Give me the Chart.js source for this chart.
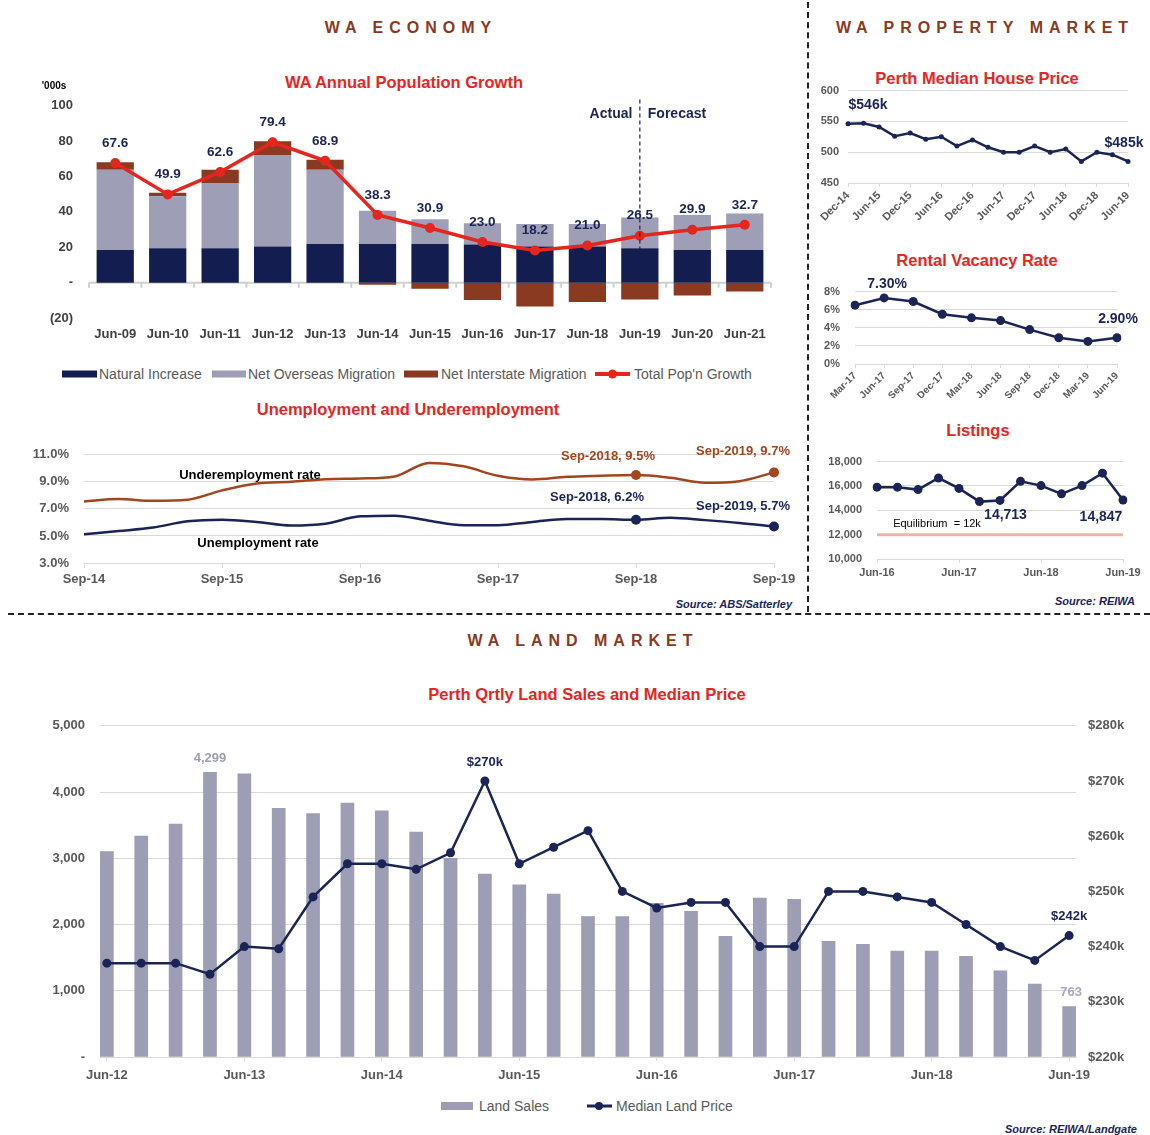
<!DOCTYPE html>
<html><head><meta charset="utf-8">
<script src="https://cdn.jsdelivr.net/npm/chart.js@4.4.1/dist/chart.umd.min.js"></script>
<style>
body{margin:0;background:#fff;font-family:"Liberation Sans",Arial,sans-serif;}
#page{position:relative;width:1150px;height:1135px;overflow:hidden;background:#fff;}
canvas{position:absolute;}
.t{position:absolute;white-space:nowrap;transform:translate(-50%,-50%);}
.head{font-weight:bold;font-size:16px;letter-spacing:6px;color:#8B3A1E;}
.title{font-weight:bold;font-size:16.5px;color:#E5261F;}
.src{position:absolute;white-space:nowrap;font-style:italic;font-weight:bold;font-size:11px;color:#1B2456;transform:translate(-100%,-50%);}
.lg{position:absolute;white-space:nowrap;font-size:14px;color:#595959;transform:translateY(-50%);}
.sw{position:absolute;height:7px;transform:translateY(-50%);}
.ann{font-weight:bold;font-size:13px;color:#000;}
</style>
</head>
<body>
<div id="page">
  <!-- separators -->
  <div style="position:absolute;left:807px;top:2px;height:610px;border-left:2px dashed #222;"></div>
  <div style="position:absolute;left:8px;top:613px;width:1142px;border-top:2px dashed #222;"></div>

  <!-- headings -->
  <div class="t head" style="left:411px;top:28px;">WA ECONOMY</div>
  <div class="t head" style="left:985px;top:28px;">WA PROPERTY MARKET</div>
  <div class="t head" style="left:583px;top:641px;">WA LAND MARKET</div>

  <!-- titles -->
  <div class="t title" style="left:404px;top:82px;">WA Annual Population Growth</div>
  <div class="t title" style="left:408px;top:409px;">Unemployment and Underemployment</div>
  <div class="t title" style="left:977px;top:78px;">Perth Median House Price</div>
  <div class="t title" style="left:977px;top:260px;">Rental Vacancy Rate</div>
  <div class="t title" style="left:978px;top:430px;">Listings</div>
  <div class="t title" style="left:587px;top:694px;">Perth Qrtly Land Sales and Median Price</div>

  <canvas id="pop" width="800" height="268" style="left:0;top:82px;"></canvas>
  <canvas id="lab" width="800" height="159" style="left:0;top:432px;"></canvas>
  <canvas id="house" width="340" height="155" style="left:810px;top:75px;"></canvas>
  <canvas id="vac" width="340" height="128" style="left:810px;top:270px;"></canvas>
  <canvas id="list" width="340" height="143" style="left:810px;top:440px;"></canvas>
  <canvas id="land" width="1150" height="387" style="left:0;top:703px;"></canvas>

  <!-- population extras -->
  <div class="t" style="left:54px;top:85px;font-weight:bold;font-size:10px;color:#000;">'000s</div>
  <div class="t" style="left:611px;top:113px;font-weight:bold;font-size:14px;color:#1B2456;">Actual</div>
  <div class="t" style="left:677px;top:113px;font-weight:bold;font-size:14px;color:#1B2456;">Forecast</div>
  <div class="sw" style="left:62px;top:374px;width:35px;background:#141D4F;"></div>
  <div class="lg" style="left:99px;top:374px;">Natural Increase</div>
  <div class="sw" style="left:212px;top:374px;width:34px;background:#9E9EB6;"></div>
  <div class="lg" style="left:248px;top:374px;">Net Overseas Migration</div>
  <div class="sw" style="left:404px;top:374px;width:34px;background:#8A3A20;"></div>
  <div class="lg" style="left:441px;top:374px;">Net Interstate Migration</div>
  <div class="sw" style="left:595px;top:374px;width:35px;height:4px;background:#E4261F;"></div>
  <div class="sw" style="left:608px;top:374px;width:9px;height:9px;border-radius:50%;background:#E4261F;"></div>
  <div class="lg" style="left:634px;top:374px;">Total Pop'n Growth</div>

  <!-- labour extras -->
  <div class="t ann" style="left:250px;top:474px;">Underemployment rate</div>
  <div class="t ann" style="left:258px;top:542px;">Unemployment rate</div>
  <div class="src" style="left:792px;top:604px;">Source: ABS/Satterley</div>

  <!-- listings extras -->
  <div class="t" style="left:937px;top:523px;font-size:11px;color:#000;">Equilibrium &nbsp;= 12k</div>
  <div class="src" style="left:1135px;top:601px;">Source: REIWA</div>

  <!-- land extras -->
  <div class="sw" style="left:441px;top:1106px;width:32px;height:8px;background:#9D9DB5;"></div>
  <div class="lg" style="left:479px;top:1106px;">Land Sales</div>
  <div class="sw" style="left:587px;top:1106px;width:25px;height:3px;background:#1B2456;"></div>
  <div class="sw" style="left:595px;top:1106px;width:8px;height:8px;border-radius:50%;background:#1B2456;"></div>
  <div class="lg" style="left:616px;top:1106px;">Median Land Price</div>
  <div class="src" style="left:1137px;top:1129px;">Source: REIWA/Landgate</div>
</div>

<script>
// ---------------- DATA ----------------
const popCategories = ['Jun-09','Jun-10','Jun-11','Jun-12','Jun-13','Jun-14','Jun-15','Jun-16','Jun-17','Jun-18','Jun-19','Jun-20','Jun-21'];
const naturalIncrease = [18.5,19.4,19.4,20.4,21.8,21.8,21.8,21.5,20.4,20.4,19.4,18.5,18.5];
const netOverseasMigration = [45.4,29.5,36.9,51.5,42.1,18.8,14.0,12.1,12.7,12.7,17.5,19.7,20.6];
const netInterstateMigration = [4.2,2.0,7.5,8.0,5.6,-1.2,-3.5,-9.8,-13.5,-11.0,-9.6,-7.3,-5.0];
const totalPopGrowth = [67.6,49.9,62.6,79.4,68.9,38.3,30.9,23.0,18.2,21.0,26.5,29.9,32.7];
const popYTicks = [-20,0,20,40,60,80,100];

const labourLabels = ['Sep-14','Dec-14','Mar-15','Jun-15','Sep-15','Dec-15','Mar-16','Jun-16','Sep-16','Dec-16','Mar-17','Jun-17','Sep-17','Dec-17','Mar-18','Jun-18','Sep-18','Dec-18','Mar-19','Jun-19','Sep-19'];
const underemploymentRate = [7.55,7.73,7.6,7.68,8.37,8.88,9.0,9.2,9.25,9.4,10.4,10.15,9.45,9.17,9.37,9.45,9.5,9.3,8.93,9.05,9.7];
const unemploymentRate = [5.12,5.36,5.62,6.08,6.2,6.04,5.77,5.9,6.45,6.5,6.13,5.8,5.8,6.04,6.25,6.25,6.2,6.35,6.17,5.96,5.7];
const labourHighlights = [16, 20];
const labourHighlightNames = ['Sep-2018','Sep-2019'];

const houseLabels = ['Dec-14','Mar-15','Jun-15','Sep-15','Dec-15','Mar-16','Jun-16','Sep-16','Dec-16','Mar-17','Jun-17','Sep-17','Dec-17','Mar-18','Jun-18','Sep-18','Dec-18','Mar-19','Jun-19'];
const houseMedian = [546,547,541,526,531,521,525,510,520,508,500,500,510,500,505,485,500,496,485];

const vacancyLabels = ['Mar-17','Jun-17','Sep-17','Dec-17','Mar-18','Jun-18','Sep-18','Dec-18','Mar-19','Jun-19'];
const vacancyRate = [6.5,7.3,6.9,5.5,5.1,4.8,3.8,2.9,2.5,2.9];

const listingLabels = ['Jun-16','Sep-16','Dec-16','Mar-17','Jun-17','Sep-17','Dec-17','Mar-18','Jun-18','Sep-18','Dec-18','Mar-19','Jun-19'];
const listings = [15900,15900,15700,16650,15800,14713,14810,16380,16030,15350,16030,17050,14847];
const listingsEquilibrium = 12000;

const landLabels = ['Jun-12','Sep-12','Dec-12','Mar-13','Jun-13','Sep-13','Dec-13','Mar-14','Jun-14','Sep-14','Dec-14','Mar-15','Jun-15','Sep-15','Dec-15','Mar-16','Jun-16','Sep-16','Dec-16','Mar-17','Jun-17','Sep-17','Dec-17','Mar-18','Jun-18','Sep-18','Dec-18','Mar-19','Jun-19'];
const landSales = [3100,3335,3515,4299,4275,3755,3675,3835,3715,3395,3000,2760,2600,2460,2120,2120,2320,2200,1820,2400,2380,1745,1700,1600,1600,1520,1300,1100,763];
const landMedianPrice = [237,237,237,235,240,239.6,249,255,255,254,257,270,255,258,261,250,247,248,248,240,240,250,250,249,248,244,240,237.5,242];

// ---------------- STYLE ----------------
const NAVY = '#1B2456', RED = '#E4261F', BROWN = '#8A3A20', LAV = '#9E9EB6', DARK = '#141D4F', UBROWN = '#A2461F';
const GRID = '#D9D9D9';
Chart.defaults.font.family = "'Liberation Sans', Arial, sans-serif";
Chart.defaults.font.weight = 'bold';
Chart.defaults.color = '#595959';
Chart.defaults.animation = false;
Chart.defaults.responsive = false;
Chart.defaults.plugins.legend.display = false;
Chart.defaults.plugins.tooltip.enabled = false;

function drawText(ctx, text, x, y, font, color, align) {
  ctx.save();
  ctx.font = font; ctx.fillStyle = color;
  ctx.textAlign = align || 'center'; ctx.textBaseline = 'middle';
  ctx.fillText(text, x, y);
  ctx.restore();
}
const F = "'Liberation Sans', Arial, sans-serif";

// ---------------- POPULATION ----------------
new Chart(document.getElementById('pop'), {
  type: 'bar',
  data: {
    labels: popCategories,
    datasets: [
      {type:'line', label:"Total Pop'n Growth", data: totalPopGrowth, borderColor: RED, backgroundColor: RED, borderWidth: 3.5, pointRadius: 5, pointBorderWidth: 0, stack:'line', order: 0},
      {label:'Natural Increase', data: naturalIncrease, backgroundColor: DARK, stack:'s', order: 1, barPercentage: 0.71, categoryPercentage: 1},
      {label:'Net Overseas Migration', data: netOverseasMigration, backgroundColor: LAV, stack:'s', order: 1, barPercentage: 0.71, categoryPercentage: 1},
      {label:'Net Interstate Migration', data: netInterstateMigration, backgroundColor: BROWN, stack:'s', order: 1, barPercentage: 0.71, categoryPercentage: 1}
    ]
  },
  options: {
    layout: {padding: {top: 6, right: 29, left: 0, bottom: 0}},
    scales: {
      x: {stacked: true, grid: {display: false, drawTicks: false}, border: {display: false},
          ticks: {padding: 9, color: '#404040', font: {size: 13, weight: 'bold'}},
          afterFit: s => { s.height = 32; }},
      y: {stacked: true, min: -20, max: 100, grid: {display: false, drawTicks: false}, border: {display: false},
          afterBuildTicks: s => { s.ticks = popYTicks.map(v => ({value: v})); },
          ticks: {padding: 16, font: {size: 13, weight: 'bold'}, color: '#404040',
                  callback: v => v === 0 ? '-' : (v < 0 ? '(' + (-v) + ')' : v)},
          afterFit: s => { s.width = 89; }}
    }
  },
  plugins: [{
    id: 'popExtras',
    beforeDatasetsDraw(chart) {
      const {ctx, chartArea: a, scales: {x, y}} = chart;
      const y0 = y.getPixelForValue(0);
      ctx.save();
      ctx.strokeStyle = '#D0D0D0'; ctx.lineWidth = 2;
      ctx.beginPath(); ctx.moveTo(a.left, y0); ctx.lineTo(a.right, y0);
      const w = (a.right - a.left) / popCategories.length;
      for (let i = 0; i <= popCategories.length; i++) {
        ctx.moveTo(a.left + i * w, y0); ctx.lineTo(a.left + i * w, y0 + 5);
      }
      ctx.stroke(); ctx.restore();
    },
    afterDatasetsDraw(chart) {
      const {ctx, scales: {x, y}} = chart;
      const xf = x.getPixelForValue(10);
      ctx.save();
      ctx.strokeStyle = NAVY; ctx.lineWidth = 1.2; ctx.setLineDash([4, 3]);
      ctx.beginPath(); ctx.moveTo(xf, y.getPixelForValue(103.5)); ctx.lineTo(xf, y.getPixelForValue(19)); ctx.stroke();
      ctx.restore();
      const meta = chart.getDatasetMeta(0);
      meta.data.forEach((pt, i) => {
        drawText(ctx, totalPopGrowth[i].toFixed(1), pt.x, pt.y - 20, 'bold 13.5px ' + F, NAVY);
      });
    }
  }]
});

// ---------------- LABOUR ----------------
new Chart(document.getElementById('lab'), {
  type: 'line',
  data: {
    labels: labourLabels,
    datasets: [
      {label:'Underemployment rate', data: underemploymentRate, borderColor: UBROWN, backgroundColor: UBROWN, borderWidth: 2.5, cubicInterpolationMode: 'monotone',
       pointRadius: underemploymentRate.map((v, i) => labourHighlights.includes(i) ? 5 : 0), pointBorderWidth: 0},
      {label:'Unemployment rate', data: unemploymentRate, borderColor: NAVY, backgroundColor: NAVY, borderWidth: 2.5, cubicInterpolationMode: 'monotone',
       pointRadius: unemploymentRate.map((v, i) => labourHighlights.includes(i) ? 5 : 0), pointBorderWidth: 0}
    ]
  },
  options: {
    layout: {padding: {top: 5, right: 26}},
    scales: {
      x: {offset: false, grid: {drawOnChartArea: false, tickLength: 5, color: GRID, offset: false}, border: {display: false},
          ticks: {autoSkip: false, maxRotation: 0, padding: 4, font: {size: 13, weight: 'bold'},
                  callback: (v, i) => i % 4 === 0 ? labourLabels[i] : null},
          afterFit: s => { s.height = 28; }},
      y: {min: 3, max: 11, grid: {color: GRID, drawTicks: false}, border: {display: false},
          ticks: {stepSize: 2, padding: 15, font: {size: 13, weight: 'bold'}, callback: v => v.toFixed(1) + '%'},
          afterFit: s => { s.width = 84; }}
    }
  },
  plugins: [{
    id: 'labLabels',
    afterDatasetsDraw(chart) {
      const ctx = chart.ctx;
      const um = chart.getDatasetMeta(0), un = chart.getDatasetMeta(1);
      const offs = [[-28, -19, -39, -22], [-31, -21, -31, -20]];
      labourHighlights.forEach((idx, k) => {
        const p1 = um.data[idx], p2 = un.data[idx];
        drawText(ctx, labourHighlightNames[k] + ', ' + underemploymentRate[idx] + '%', p1.x + offs[k][0], p1.y + offs[k][1], 'bold 13px ' + F, UBROWN);
        drawText(ctx, labourHighlightNames[k] + ', ' + unemploymentRate[idx] + '%', p2.x + offs[k][2], p2.y + offs[k][3], 'bold 13px ' + F, NAVY);
      });
    }
  }]
});

// ---------------- HOUSE PRICE ----------------
new Chart(document.getElementById('house'), {
  type: 'line',
  data: {labels: houseLabels, datasets: [{data: houseMedian, borderColor: NAVY, backgroundColor: NAVY, borderWidth: 2.5, pointRadius: 2.5, pointBorderWidth: 0, tension: 0}]},
  options: {
    layout: {padding: {top: 5, right: 22}},
    scales: {
      x: {offset: false, grid: {drawOnChartArea: false, tickLength: 4, color: GRID}, border: {display: false},
          ticks: {autoSkip: false, minRotation: 45, maxRotation: 45, padding: 2, font: {size: 11, weight: 'bold'},
                  callback: (v, i) => i % 2 === 0 ? houseLabels[i] : null},
          afterFit: s => { s.height = 47; }},
      y: {min: 450, max: 600, grid: {color: GRID, drawTicks: false}, border: {display: false},
          ticks: {stepSize: 50, padding: 9, font: {size: 11, weight: 'bold'}},
          afterFit: s => { s.width = 38; }}
    }
  },
  plugins: [{
    id: 'houseLabels',
    afterDatasetsDraw(chart) {
      const m = chart.getDatasetMeta(0), n = houseMedian.length - 1;
      drawText(chart.ctx, '$' + houseMedian[0] + 'k', m.data[0].x + 20, m.data[0].y - 19, 'bold 14px ' + F, NAVY);
      drawText(chart.ctx, '$' + houseMedian[n] + 'k', m.data[n].x - 4, m.data[n].y - 18, 'bold 14px ' + F, NAVY);
    }
  }]
});

// ---------------- VACANCY ----------------
new Chart(document.getElementById('vac'), {
  type: 'line',
  data: {labels: vacancyLabels, datasets: [{data: vacancyRate, borderColor: NAVY, backgroundColor: NAVY, borderWidth: 2.5, pointRadius: 4.5, pointBorderWidth: 0, tension: 0}]},
  options: {
    layout: {padding: {top: 20, right: 33}},
    scales: {
      x: {offset: false, grid: {drawOnChartArea: false, tickLength: 4, color: GRID}, border: {display: false},
          ticks: {autoSkip: false, minRotation: 45, maxRotation: 45, padding: 2, font: {size: 10, weight: 'bold'}},
          afterFit: s => { s.height = 34; }},
      y: {min: 0, max: 8, grid: {color: GRID, drawTicks: false}, border: {display: false},
          ticks: {stepSize: 2, padding: 15, font: {size: 11, weight: 'bold'}, callback: v => v + '%'},
          afterFit: s => { s.width = 45; }}
    }
  },
  plugins: [{
    id: 'vacLabels',
    afterDatasetsDraw(chart) {
      const m = chart.getDatasetMeta(0), n = vacancyRate.length - 1;
      drawText(chart.ctx, vacancyRate[1].toFixed(2) + '%', m.data[1].x + 3, m.data[1].y - 14, 'bold 14px ' + F, NAVY);
      drawText(chart.ctx, vacancyRate[n].toFixed(2) + '%', m.data[n].x + 1, m.data[n].y - 19, 'bold 14px ' + F, NAVY);
    }
  }]
});

// ---------------- LISTINGS ----------------
new Chart(document.getElementById('list'), {
  type: 'line',
  data: {labels: listingLabels, datasets: [{data: listings, borderColor: NAVY, backgroundColor: NAVY, borderWidth: 2.5, pointRadius: 4.5, pointBorderWidth: 0, tension: 0}]},
  options: {
    layout: {padding: {top: 11, right: 27}},
    scales: {
      x: {offset: false, grid: {drawOnChartArea: false, tickLength: 4, color: GRID}, border: {display: false},
          ticks: {autoSkip: false, maxRotation: 0, padding: 3, font: {size: 11, weight: 'bold'},
                  callback: (v, i) => i % 4 === 0 ? listingLabels[i] : null},
          afterFit: s => { s.height = 24; }},
      y: {min: 10000, max: 18000, grid: {color: GRID, drawTicks: false}, border: {display: false},
          ticks: {stepSize: 2000, padding: 15, font: {size: 11, weight: 'bold'}, callback: v => v.toLocaleString('en-US')},
          afterFit: s => { s.width = 67; }}
    }
  },
  plugins: [{
    id: 'listExtras',
    beforeDatasetsDraw(chart) {
      const {ctx, chartArea: a, scales: {y}} = chart;
      const ye = y.getPixelForValue(listingsEquilibrium);
      ctx.save(); ctx.strokeStyle = '#E6B7A3'; ctx.lineWidth = 3;
      ctx.beginPath(); ctx.moveTo(a.left, ye); ctx.lineTo(a.right, ye); ctx.stroke(); ctx.restore();
    },
    afterDatasetsDraw(chart) {
      const m = chart.getDatasetMeta(0), n = listings.length - 1;
      drawText(chart.ctx, listings[5].toLocaleString('en-US'), m.data[5].x + 26, m.data[5].y + 14, 'bold 14px ' + F, NAVY);
      drawText(chart.ctx, listings[n].toLocaleString('en-US'), m.data[n].x - 22, m.data[n].y + 17, 'bold 14px ' + F, NAVY);
    }
  }]
});

// ---------------- LAND ----------------
new Chart(document.getElementById('land'), {
  type: 'bar',
  data: {
    datasets: [
      {type: 'line', label: 'Median Land Price', data: landMedianPrice.map((v, i) => ({x: i, y: v})), yAxisID: 'y2',
       borderColor: NAVY, backgroundColor: NAVY, borderWidth: 2.5, pointRadius: 4.5, pointBorderWidth: 0, tension: 0, order: 0},
      {label: 'Land Sales', data: landSales.map((v, i) => ({x: i, y: v})), yAxisID: 'y', backgroundColor: '#9D9DB5', barThickness: 13, order: 1}
    ]
  },
  options: {
    layout: {padding: {top: 10}},
    scales: {
      x: {type: 'linear', min: -0.2, max: 28.2, offset: false,
          grid: {drawOnChartArea: false, tickLength: 4, color: GRID, offset: false}, border: {display: true, color: GRID},
          afterBuildTicks: s => { s.ticks = landLabels.map((l, i) => i).filter(i => i % 4 === 0).map(v => ({value: v})); },
          ticks: {autoSkip: false, maxRotation: 0, padding: 7, font: {size: 13, weight: 'bold'}, callback: v => landLabels[v]},
          afterFit: s => { s.height = 33; }},
      y: {position: 'left', min: 0, max: 5000, grid: {color: GRID, drawTicks: false}, border: {display: false},
          ticks: {stepSize: 1000, padding: 15, font: {size: 13, weight: 'bold'}, callback: v => v === 0 ? '-' : v.toLocaleString('en-US')},
          afterFit: s => { s.width = 100; }},
      y2: {position: 'right', min: 220, max: 280, grid: {drawOnChartArea: false, drawTicks: false}, border: {display: false},
          ticks: {stepSize: 10, padding: 12, font: {size: 13, weight: 'bold'}, callback: v => '$' + v + 'k'},
          afterFit: s => { s.width = 74; }}
    }
  },
  plugins: [{
    id: 'landLabels',
    afterDatasetsDraw(chart) {
      const ctx = chart.ctx;
      const lm = chart.getDatasetMeta(0), bm = chart.getDatasetMeta(1), n = landSales.length - 1;
      let maxI = landSales.indexOf(Math.max(...landSales));
      drawText(ctx, landSales[maxI].toLocaleString('en-US'), bm.data[maxI].x, bm.data[maxI].y - 14, 'bold 13px ' + F, '#9D9DB5');
      drawText(ctx, landSales[n].toLocaleString('en-US'), bm.data[n].x + 2, bm.data[n].y - 14, 'bold 13px ' + F, '#A9A9C0');
      let pMax = landMedianPrice.indexOf(Math.max(...landMedianPrice));
      drawText(ctx, '$' + landMedianPrice[pMax] + 'k', lm.data[pMax].x, lm.data[pMax].y - 19, 'bold 13px ' + F, NAVY);
      drawText(ctx, '$' + landMedianPrice[n] + 'k', lm.data[n].x, lm.data[n].y - 19, 'bold 13px ' + F, NAVY);
    }
  }]
});
</script>
</body></html>
